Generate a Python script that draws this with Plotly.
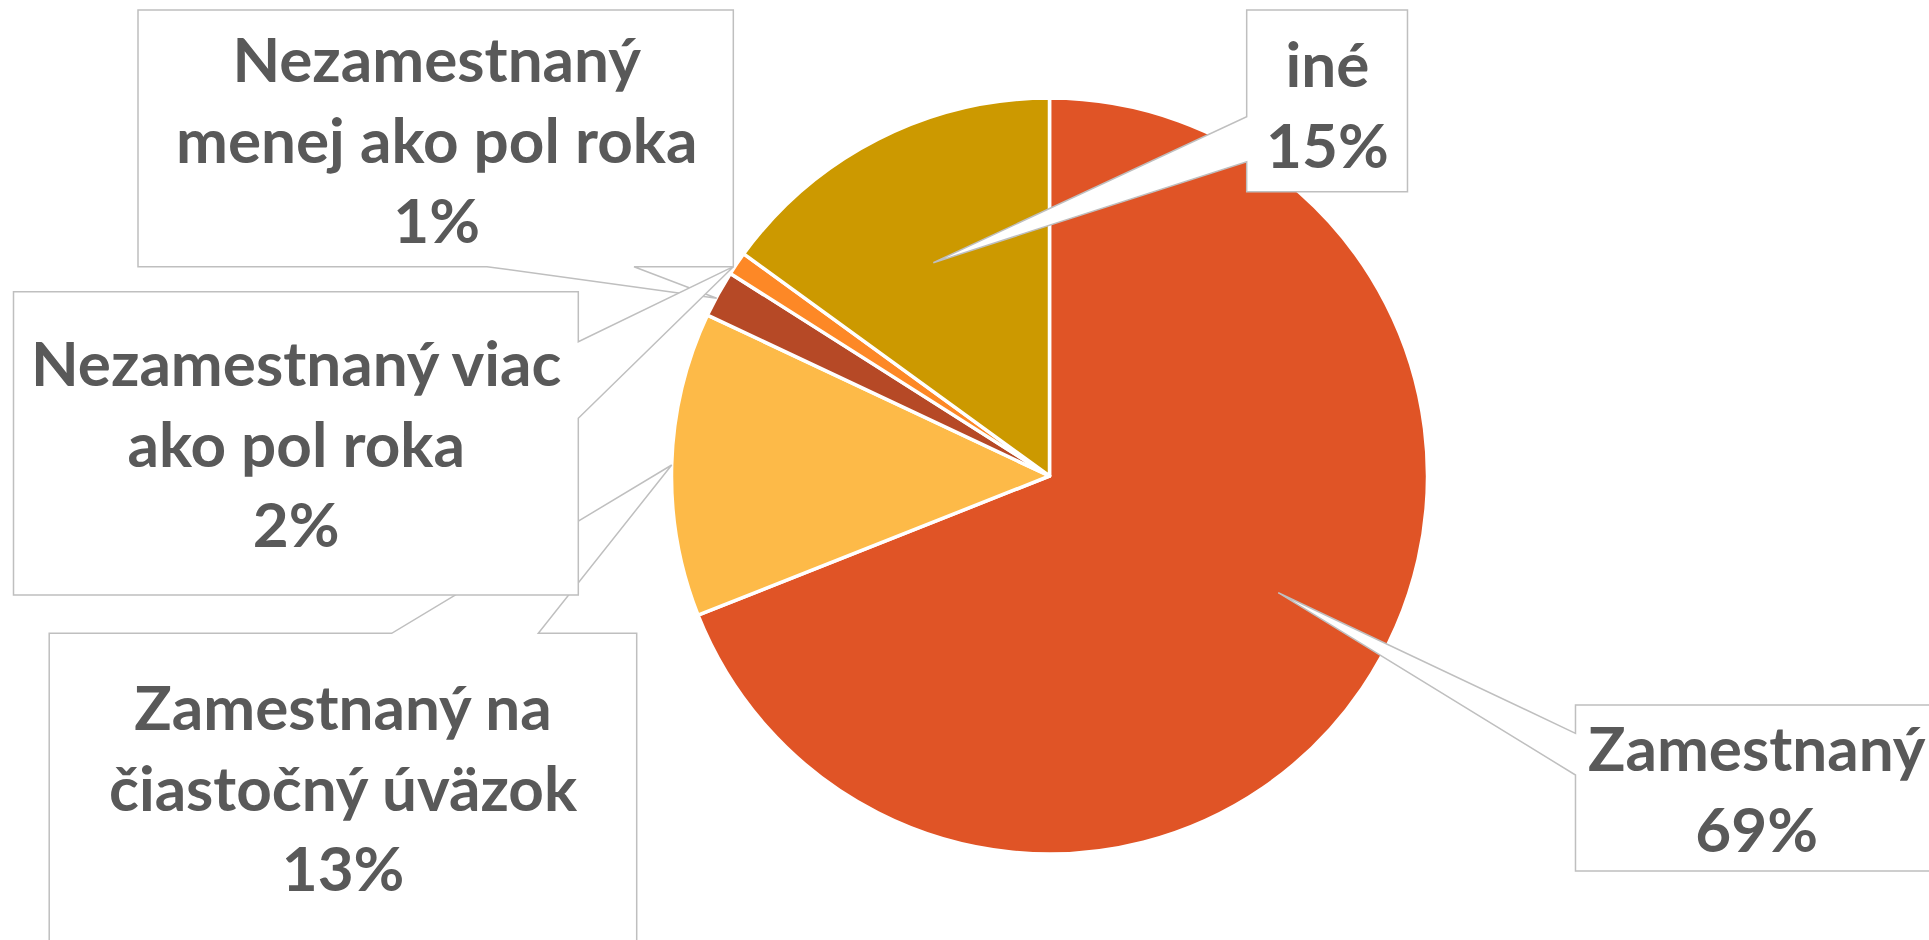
import plotly.graph_objects as go

# ---- data ----
labels = ["Zamestnaný", "Zamestnaný na čiastočný úväzok", "Nezamestnaný viac ako pol roka",
          "Nezamestnaný menej ako pol roka", "iné"]
values = [69, 13, 2, 1, 15]
label_lines = [["Zamestnaný"], ["Zamestnaný na", "čiastočný úväzok"], ["Nezamestnaný viac", "ako pol roka"],
               ["Nezamestnaný", "menej ako pol roka"], ["iné"]]
colors = ["#E05426", "#FDBA48", "#B64926", "#FD8826", "#CC9900"]

W, H = 1929, 940
TEXT_COLOR = "#595959"
LINE_COLOR = "#BFBFBF"


def X(px):
    return px / W


def Y(py):
    return 1 - py / H


# pie geometry (pixels)
cx, cy, R = 1049.5, 476, 378

fig = go.Figure(go.Pie(
    labels=labels, values=values, sort=False, direction="clockwise", rotation=0,
    marker=dict(colors=colors, line=dict(color="white", width=3.5)),
    textinfo="none", hoverinfo="label+percent", showlegend=False,
    domain=dict(x=[X(cx - R), X(cx + R)], y=[Y(cy + R), Y(cy - R)]),
))

# callout boxes (pixel polygons), drawn in stacking order
callouts = {
    1: [(49.2, 633.3), (391.7, 633.3), (671.7, 465), (538.3, 633.3), (636.7, 633.3), (636.7, 960), (49.2, 960)],
    3: [(138, 10), (733.3, 10), (733.3, 266.7), (634, 266.7), (716.7, 298.3), (487, 266.7), (138, 266.7)],
    2: [(13.5, 291.7), (578.3, 291.7), (578.3, 341.7), (733.3, 266.7), (578.3, 418.3), (578.3, 595), (13.5, 595)],
    4: [(1246.7, 10), (1407.5, 10), (1407.5, 191.7), (1246.7, 191.7), (1246.7, 161.7), (933.3, 262.7), (1246.7, 116.7)],
    0: [(1575.5, 705), (1960, 705), (1960, 871), (1575.5, 871), (1575.5, 775), (1278.3, 592.7), (1575.5, 733.3)],
}
text_pos = {0: (1757, 787), 1: (343, 786), 2: (296, 442), 3: (436, 138), 4: (1327.5, 104)}

shapes = []
for idx in [1, 3, 2, 4, 0]:
    pts = callouts[idx]
    path = "M " + " L ".join(f"{X(x):.5f},{Y(y):.5f}" for x, y in pts) + " Z"
    shapes.append(dict(type="path", xref="paper", yref="paper", path=path,
                       fillcolor="white", line=dict(color=LINE_COLOR, width=1.5), layer="above"))

annotations = []
for i, (lines, v) in enumerate(zip(label_lines, values)):
    tx, ty = text_pos[i]
    annotations.append(dict(
        x=X(tx), y=Y(ty), xref="paper", yref="paper", xanchor="center", yanchor="middle",
        text="<br>".join(lines + [f"{v}%"]), showarrow=False, align="center",
        font=dict(family="Lato", size=62, color=TEXT_COLOR, weight="bold"),
    ))

fig.update_layout(
    width=W, height=H, margin=dict(l=0, r=0, t=0, b=0),
    paper_bgcolor="white", plot_bgcolor="white",
    shapes=shapes, annotations=annotations,
)

fig.write_html("out.html", config={"displayModeBar": False},
               post_script="document.body.style.margin='0';")
